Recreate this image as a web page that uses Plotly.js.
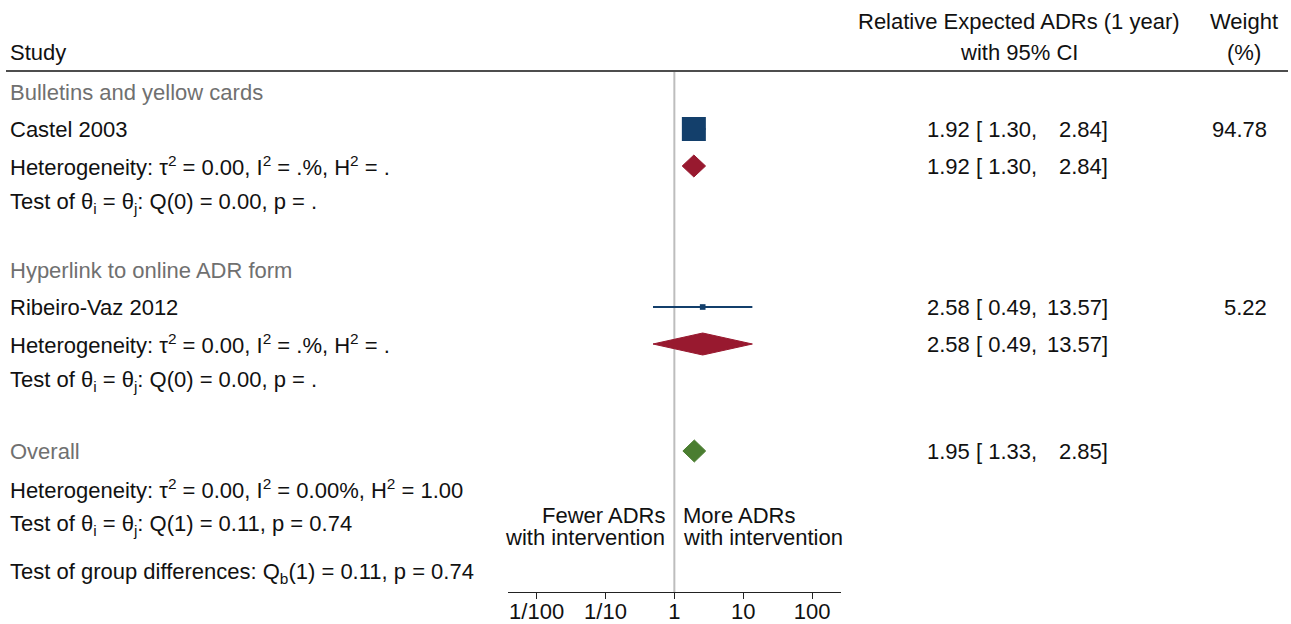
<!DOCTYPE html>
<html>
<head>
<meta charset="utf-8">
<script src="https://cdn.plot.ly/plotly-3.0.1.min.js"></script>
<style>
  html, body { margin: 0; padding: 0; background: #fff; }
  #chart { width: 1291px; height: 624px; }
</style>
</head>
<body>
<div id="chart"></div>
<script>
// ---- data ----
const groups = ['Bulletins and yellow cards', 'Hyperlink to online ADR form'];
const studies = ['Castel 2003', 'Ribeiro-Vaz 2012'];
const studyEst = [1.92, 2.58];
const studyLo = [1.30, 0.49];
const studyHi = [2.84, 13.57];
const studyWeight = [94.78, 5.22];

const groupEst = [1.92, 2.58];
const groupLo = [1.30, 0.49];
const groupHi = [2.84, 13.57];
const groupTau2 = ['0.00', '0.00'];
const groupI2 = ['.', '.'];
const groupH2 = ['.', '.'];
const groupQ = ['0.00', '0.00'];
const groupQdf = [0, 0];
const groupP = ['.', '.'];

const overallEst = 1.95;
const overallLo = 1.33;
const overallHi = 2.85;
const overallTau2 = '0.00';
const overallI2 = '0.00';
const overallH2 = '1.00';
const overallQ = '0.11';
const overallQdf = 1;
const overallP = '0.74';
const betweenQ = '0.11';
const betweenQdf = 1;
const betweenP = '0.74';

const tickVals = [0.01, 0.1, 1, 10, 100];
const tickLabels = ['1/100', '1/10', '1', '10', '100'];

// ---- layout positions (pixels from top of the page) ----
const W = 1291, H = 624;
const axisY = 592;
const headerLineY = 71;
const groupRowY = [92, 270];
const studyRowY = [129, 307];
const hetRowY = [166, 344];
const testRowY = [203, 381];
const overallRowY = 451;
const overallHetY = 489;
const overallTestY = 525;
const betweenY = 573;

const FONT = 'Liberation Sans, Arial, Helvetica, sans-serif';
const FS = 22;
const BLACK = '#111111';
const GREY = '#707070';
const NAVY = '#133f6b';
const RED = '#98192f';
const GREEN = '#4a7d30';
const DIAMOND_HALF = 11;
const MAX_SQUARE = 24;

const px = v => v / W;
const f2 = v => v.toFixed(2);

const traces = [];

// reference line at no effect
traces.push({
  x: [1, 1], y: [headerLineY, axisY], mode: 'lines',
  line: { color: '#bdbdbd', width: 2 }, hoverinfo: 'skip', showlegend: false
});

// study confidence intervals and weighted squares
studies.forEach((s, i) => {
  traces.push({
    x: [studyLo[i], studyHi[i]], y: [studyRowY[i], studyRowY[i]], mode: 'lines',
    line: { color: NAVY, width: 2 }, hoverinfo: 'skip', showlegend: false
  });
  traces.push({
    x: [studyEst[i]], y: [studyRowY[i]], mode: 'markers',
    marker: { symbol: 'square', color: NAVY,
              size: MAX_SQUARE * Math.sqrt(studyWeight[i] / Math.max(...studyWeight)),
              line: { width: 0 } },
    hoverinfo: 'skip', showlegend: false
  });
});

// pooled diamonds
function diamond(est, lo, hi, yc, color) {
  return {
    x: [lo, est, hi, est, lo],
    y: [yc, yc - DIAMOND_HALF, yc, yc + DIAMOND_HALF, yc],
    mode: 'lines', fill: 'toself', fillcolor: color,
    line: { color: color, width: 1 }, hoverinfo: 'skip', showlegend: false
  };
}
groups.forEach((g, i) => traces.push(diamond(groupEst[i], groupLo[i], groupHi[i], hetRowY[i], RED)));
traces.push(diamond(overallEst, overallLo, overallHi, overallRowY, GREEN));

// ---- text ----
const ann = [];
function txt(text, xPix, yPix, anchor, color) {
  ann.push({
    text: text, xref: 'paper', x: px(xPix), yref: 'y', y: yPix,
    xanchor: anchor, yanchor: 'middle', showarrow: false,
    font: { family: FONT, size: FS, color: color || BLACK }
  });
}

const hetText = (t, i2, h2) =>
  `Heterogeneity: τ<sup>2</sup> = ${t}, I<sup>2</sup> = ${i2}%, H<sup>2</sup> = ${h2}`;
const testText = (q, df, p) =>
  `Test of θ<sub>i</sub> = θ<sub>j</sub>: Q(${df}) = ${q}, p = ${p}`;

const LEFT_X = 8;
const CI_LEFT_X = 925;
const CI_RIGHT_X = 1110;
const WEIGHT_RIGHT_X = 1269;

// headers
txt('Study', LEFT_X, 52, 'left');
txt('Relative Expected ADRs (1 year)', 1019, 21, 'center');
txt('with 95% CI', 1019, 52, 'center');
txt('Weight', 1244, 21, 'center');
txt('(%)', 1244, 52, 'center');

function ciText(est, lo, hi, yPix) {
  txt(`${f2(est)} [ ${f2(lo)},`, CI_LEFT_X, yPix, 'left');
  txt(`${f2(hi)}]`, CI_RIGHT_X, yPix, 'right');
}

groups.forEach((g, i) => {
  txt(g, LEFT_X, groupRowY[i], 'left', GREY);
  txt(studies[i], LEFT_X, studyRowY[i], 'left');
  ciText(studyEst[i], studyLo[i], studyHi[i], studyRowY[i]);
  txt(f2(studyWeight[i]), WEIGHT_RIGHT_X, studyRowY[i], 'right');
  txt(hetText(groupTau2[i], groupI2[i], groupH2[i]), LEFT_X, hetRowY[i], 'left');
  ciText(groupEst[i], groupLo[i], groupHi[i], hetRowY[i]);
  txt(testText(groupQ[i], groupQdf[i], groupP[i]), LEFT_X, testRowY[i], 'left');
});

txt('Overall', LEFT_X, overallRowY, 'left', GREY);
ciText(overallEst, overallLo, overallHi, overallRowY);
txt(hetText(overallTau2, overallI2, overallH2), LEFT_X, overallHetY, 'left');
txt(testText(overallQ, overallQdf, overallP), LEFT_X, overallTestY, 'left');
txt(`Test of group differences: Q<sub>b</sub>(${betweenQdf}) = ${betweenQ}, p = ${betweenP}`,
    LEFT_X, betweenY, 'left');

// direction labels either side of the null line
function dirLabel(text, yPix, side) {
  ann.push({
    text: text, xref: 'x', x: 0, yref: 'y', y: yPix,
    xanchor: side < 0 ? 'right' : 'left', yanchor: 'middle',
    xshift: side < 0 ? -7 : 7, showarrow: false, height: 20,
    font: { family: FONT, size: FS, color: BLACK }
  });
}
dirLabel('Fewer ADRs', 515, -1);
dirLabel('with intervention', 537, -1);
dirLabel('More ADRs', 515, 1);
dirLabel('with intervention', 537, 1);

const layout = {
  width: W, height: H,
  margin: { l: 0, r: 0, t: 0, b: 0, pad: 0 },
  paper_bgcolor: '#ffffff', plot_bgcolor: 'rgba(0,0,0,0)',
  showlegend: false,
  font: { family: FONT, size: FS, color: BLACK },
  xaxis: {
    type: 'log', range: [-2.415, 2.415],
    domain: [508 / W, 840.7 / W],
    tickmode: 'array', tickvals: tickVals, ticktext: tickLabels,
    ticks: 'outside', ticklen: 6, tickwidth: 1.2, tickcolor: '#222',
    ticklabelstandoff: -7,
    showline: true, linecolor: '#222', linewidth: 1.2,
    showgrid: false, zeroline: false,
    tickfont: { family: FONT, size: FS, color: BLACK },
    fixedrange: true
  },
  yaxis: {
    range: [axisY, 0], domain: [(H - axisY) / H, 1],
    visible: false, showgrid: false, zeroline: false, fixedrange: true
  },
  shapes: [{
    type: 'line', xref: 'paper', yref: 'y',
    x0: px(6), x1: px(1288), y0: headerLineY, y1: headerLineY,
    line: { color: '#4d4d4d', width: 2 }
  }],
  annotations: ann
};

Plotly.newPlot('chart', traces, layout, { staticPlot: true, displayModeBar: false });
</script>
</body>
</html>
